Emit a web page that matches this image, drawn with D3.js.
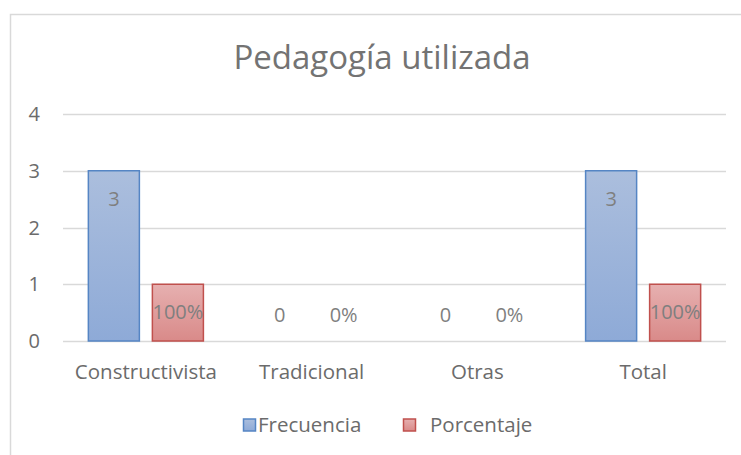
<!DOCTYPE html>
<html>
<head>
<meta charset="utf-8">
<script src="https://cdn.jsdelivr.net/npm/d3@7"></script>
<style>
  body { margin: 0; background: #fff; }
  text { font-family: "Open Sans", "Noto Sans", sans-serif; fill: #6b6b6b; }
</style>
</head>
<body>
<div id="chart"></div>
<script>
// data
var categories = ["Constructivista", "Tradicional", "Otras", "Total"];
var series = ["Frecuencia", "Porcentaje"];
var frecuencia = [3, 0, 0, 3];
var porcentaje = [1, 0, 0, 1];
var porcentajeLabels = ["100%", "0%", "0%", "100%"];
var yTicks = [0, 1, 2, 3, 4];

var width = 741, height = 455;
var margin = {top: 114, right: 15, bottom: 114, left: 63};

var svg = d3.select("#chart").append("svg")
    .attr("width", width)
    .attr("height", height);

// outer frame
svg.append("rect")
    .attr("x", 10.5).attr("y", 14.5)
    .attr("width", 740).attr("height", 460)
    .attr("fill", "none")
    .attr("stroke", "#d9d9d9")
    .attr("stroke-width", 1.5);

// gradients
var defs = svg.append("defs");
function grad(id, top, bottom) {
    var g = defs.append("linearGradient").attr("id", id)
        .attr("x1", 0).attr("y1", 0).attr("x2", 0).attr("y2", 1);
    g.append("stop").attr("offset", "0%").attr("stop-color", top);
    g.append("stop").attr("offset", "100%").attr("stop-color", bottom);
}
grad("gBlue", "#abbedd", "#8eaad7");
grad("gRed", "#e6b0b0", "#d98a89");
var fills = ["url(#gBlue)", "url(#gRed)"];
var strokes = ["#5585c4", "#c0504d"];

var x0 = d3.scaleBand()
    .domain(categories)
    .range([margin.left, width - margin.right])
    .padding(0);
var x1 = d3.scaleBand()
    .domain(series)
    .range([0, x0.bandwidth()])
    .paddingInner(0.203)
    .paddingOuter(0.396);
var y = d3.scaleLinear()
    .domain([0, 4])
    .range([height - margin.bottom, margin.top]);

// gridlines
svg.append("g")
    .selectAll("line")
    .data(yTicks)
    .enter().append("line")
    .attr("x1", margin.left).attr("x2", width - margin.right)
    .attr("y1", function(d){ return Math.round(y(d)) + 0.5; })
    .attr("y2", function(d){ return Math.round(y(d)) + 0.5; })
    .attr("stroke", "#d9d9d9")
    .attr("stroke-width", 1.5);

// y labels
svg.append("g")
    .selectAll("text")
    .data(yTicks)
    .enter().append("text")
    .attr("x", 40)
    .attr("y", function(d){ return y(d); })
    .attr("dy", "0.35em")
    .attr("text-anchor", "end")
    .style("font-size", "20px")
    .text(function(d){ return d; });

// bars
var rows = categories.map(function(c, i){
    return {cat: c, vals: [frecuencia[i], porcentaje[i]], labels: [String(frecuencia[i]), porcentajeLabels[i]]};
});

var groups = svg.append("g").selectAll("g")
    .data(rows)
    .enter().append("g")
    .attr("transform", function(d){ return "translate(" + x0(d.cat) + ",0)"; });

groups.selectAll("rect")
    .data(function(d){ return d.vals.map(function(v, j){ return {s: series[j], v: v, j: j}; }); })
    .enter().append("rect")
    .filter(function(d){ return d.v > 0; })
    .attr("x", function(d){ return x1(d.s); })
    .attr("y", function(d){ return y(d.v); })
    .attr("width", x1.bandwidth())
    .attr("height", function(d){ return y(0) - y(d.v); })
    .attr("fill", function(d){ return fills[d.j]; })
    .attr("stroke", function(d){ return strokes[d.j]; })
    .attr("stroke-width", 1.5);

// value labels (inside end, zero values sit just above the axis)
groups.selectAll("text")
    .data(function(d){ return d.vals.map(function(v, j){ return {s: series[j], v: v, label: d.labels[j]}; }); })
    .enter().append("text")
    .attr("x", function(d){ return x1(d.s) + x1.bandwidth() / 2; })
    .attr("y", function(d){ return Math.min(y(d.v) + 28, y(0) - 26); })
    .attr("dy", "0.35em")
    .attr("text-anchor", "middle")
    .style("font-size", "20px")
    .style("fill", "#7f7f7f")
    .text(function(d){ return d.label; });

// category labels
svg.append("g")
    .selectAll("text")
    .data(categories)
    .enter().append("text")
    .attr("x", function(d){ return x0(d) + x0.bandwidth() / 2; })
    .attr("y", 372)
    .attr("dy", "0.35em")
    .attr("text-anchor", "middle")
    .style("font-size", "20.5px")
    .text(function(d){ return d; });

// title
svg.append("text")
    .attr("x", 382)
    .attr("y", 69)
    .attr("text-anchor", "middle")
    .style("font-size", "33px")
    .style("fill", "#737373")
    .text("Pedagogía utilizada");

// legend
var legendX = [243, 403];
var legend = svg.append("g").selectAll("g")
    .data(series)
    .enter().append("g")
    .attr("transform", function(d, i){ return "translate(" + legendX[i] + ",425)"; });
legend.append("rect")
    .attr("x", 0.5).attr("y", -6)
    .attr("width", 12).attr("height", 12)
    .attr("fill", function(d, i){ return fills[i]; })
    .attr("stroke", function(d, i){ return strokes[i]; })
    .attr("stroke-width", 1.5);
legend.append("text")
    .attr("x", function(d, i){ return i === 0 ? 15 : 27; })
    .attr("y", 0)
    .attr("dy", "0.35em")
    .style("font-size", "20.5px")
    .text(function(d){ return d; });
</script>
</body>
</html>
